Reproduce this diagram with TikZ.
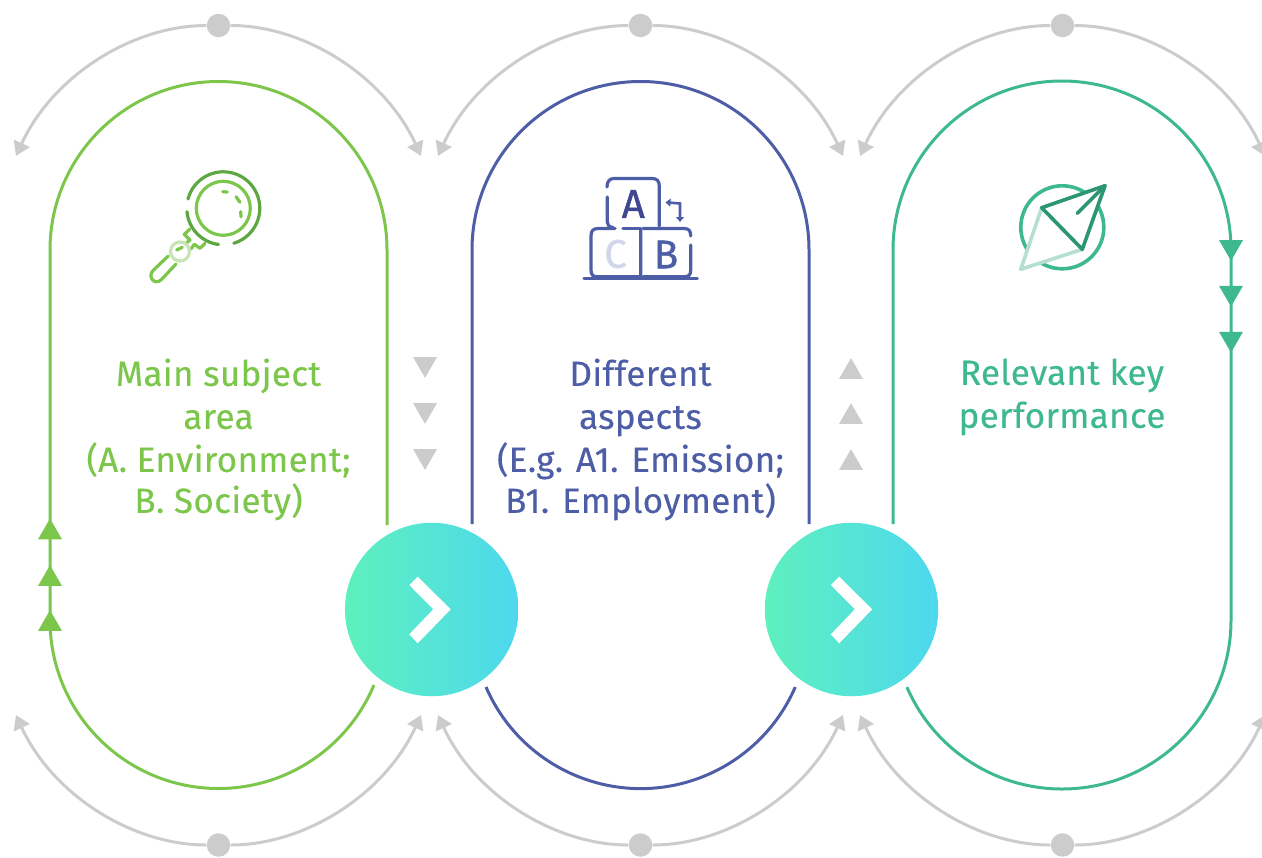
\documentclass[tikz,border=0pt]{standalone}
\usepackage{fontspec}
\setmainfont[LetterSpace=1.0,FakeBold=0.3]{Fira Sans}
\newfontfamily\iconfont[FakeBold=1.2]{Fira Sans}
\usetikzlibrary{arrows.meta,shapes.geometric}
\newlength{\du}
\setlength{\du}{0.5pt}
\definecolor{greycolor}{rgb}{0.796, 0.800, 0.796}
\definecolor{greencolor}{rgb}{0.490, 0.776, 0.298}
\definecolor{greendark}{rgb}{0.365, 0.655, 0.255}
\definecolor{greenpale}{rgb}{0.788, 0.894, 0.706}
\definecolor{bluecolor}{rgb}{0.306, 0.369, 0.651}
\definecolor{bluedark}{rgb}{0.247, 0.278, 0.565}
\definecolor{bluepale}{rgb}{0.827, 0.839, 0.918}
\definecolor{tealcolor}{rgb}{0.239, 0.722, 0.565}
\definecolor{tealdark}{rgb}{0.173, 0.584, 0.451}
\definecolor{tealpale}{rgb}{0.710, 0.878, 0.812}
\definecolor{roundleft}{rgb}{0.369, 0.941, 0.745}
\definecolor{roundright}{rgb}{0.302, 0.847, 0.933}
\tikzset{
  greyarc/.style={draw=greycolor, line width=3\du, -{Triangle[length=7pt,width=8.5pt]}},
  greydot/.style={circle, fill=greycolor, inner sep=0pt, minimum size=23.5\du},
  loopline/.style={line width=3\du},
  tridown/.style={regular polygon, regular polygon sides=3, shape border rotate=180, inner sep=0pt, minimum size=27.7\du},
  triup/.style={regular polygon, regular polygon sides=3, inner sep=0pt, minimum size=27.7\du},
  roundbtn/.style={circle, inner sep=0pt, minimum size=173.5\du, left color=roundleft, right color=roundright},
  looptext/.style={align=center, anchor=north, font=\fontsize{17.5}{21.5}\selectfont},
  iconline/.style={line width=3.2\du, line cap=round, line join=round},
  iconletter/.style={inner sep=0pt, font=\fontsize{20}{20}\selectfont\iconfont}
}
\begin{document}
\begin{tikzpicture}
\pgftransformyscale{-1.000000}
\useasboundingbox (0\du,0\du) rectangle (1262\du,857\du);
\clip (0\du,0\du) rectangle (1262\du,857\du);
% grey arcs, top
\node[greydot] (dottopa) at (218.5\du,25.5\du) {};
\node[greydot] (dottopb) at (640.5\du,25.5\du) {};
\node[greydot] (dottopc) at (1062.5\du,25.5\du) {};
\coordinate (tiptopal) at (16\du,156\du);
\coordinate (tiptopar) at (421\du,156\du);
\coordinate (tiptopbl) at (438\du,156\du);
\coordinate (tiptopbr) at (843\du,156\du);
\coordinate (tiptopcl) at (860\du,156\du);
\coordinate (tiptopcr) at (1265\du,156\du);
\draw[greyarc] (dottopa) .. controls (131.5\du,25.5\du) and (52.2\du,76.9\du) .. (tiptopal);
\draw[greyarc] (dottopa) .. controls (305.5\du,25.5\du) and (384.8\du,76.9\du) .. (tiptopar);
\draw[greyarc] (dottopb) .. controls (553.5\du,25.5\du) and (474.2\du,76.9\du) .. (tiptopbl);
\draw[greyarc] (dottopb) .. controls (727.5\du,25.5\du) and (806.8\du,76.9\du) .. (tiptopbr);
\draw[greyarc] (dottopc) .. controls (975.5\du,25.5\du) and (896.2\du,76.9\du) .. (tiptopcl);
\draw[greyarc] (dottopc) .. controls (1149.5\du,25.5\du) and (1228.8\du,76.9\du) .. (tiptopcr);
% grey arcs, bottom
\node[greydot] (dotbota) at (218.5\du,845\du) {};
\node[greydot] (dotbotb) at (640.5\du,845\du) {};
\node[greydot] (dotbotc) at (1062.5\du,845\du) {};
\coordinate (tipbotal) at (16\du,715\du);
\coordinate (tipbotar) at (421\du,715\du);
\coordinate (tipbotbl) at (438\du,715\du);
\coordinate (tipbotbr) at (843\du,715\du);
\coordinate (tipbotcl) at (860\du,715\du);
\coordinate (tipbotcr) at (1265\du,715\du);
\draw[greyarc] (dotbota) .. controls (131.5\du,845\du) and (52.2\du,794.1\du) .. (tipbotal);
\draw[greyarc] (dotbota) .. controls (305.5\du,845\du) and (384.8\du,794.1\du) .. (tipbotar);
\draw[greyarc] (dotbotb) .. controls (553.5\du,845\du) and (474.2\du,794.1\du) .. (tipbotbl);
\draw[greyarc] (dotbotb) .. controls (727.5\du,845\du) and (806.8\du,794.1\du) .. (tipbotbr);
\draw[greyarc] (dotbotc) .. controls (975.5\du,845\du) and (896.2\du,794.1\du) .. (tipbotcl);
\draw[greyarc] (dotbotc) .. controls (1149.5\du,845\du) and (1228.8\du,794.1\du) .. (tipbotcr);
% the three loops
\draw[loopline, greencolor] (387\du,525\du) -- (387\du,250\du)
  arc[start angle=0, end angle=-180, radius=168.5\du] -- (50\du,620\du)
  arc[start angle=180, end angle=22.7, radius=168.5\du];
\draw[loopline, bluecolor] (472\du,524\du) -- (472\du,250\du)
  arc[start angle=180, end angle=360, radius=168.5\du] -- (809\du,524\du);
\draw[loopline, bluecolor] (486\du,687\du) arc[start angle=156.6, end angle=23.4, radius=168.5\du];
\draw[loopline, tealcolor] (893\du,524\du) -- (893\du,250\du)
  arc[start angle=180, end angle=360, radius=169\du] -- (1231\du,620\du)
  arc[start angle=0, end angle=156.6, radius=169\du];
% small triangles
\node[triup, fill=greencolor] (triga) at (50\du,532.4\du) {};
\node[triup, fill=greencolor] (trigb) at (50\du,579\du) {};
\node[triup, fill=greencolor] (trigc) at (50\du,624\du) {};
\node[tridown, fill=tealcolor] (trita) at (1231\du,247\du) {};
\node[tridown, fill=tealcolor] (tritb) at (1231\du,292.7\du) {};
\node[tridown, fill=tealcolor] (tritc) at (1231\du,338.7\du) {};
\node[tridown, fill=greycolor] (trida) at (425\du,364\du) {};
\node[tridown, fill=greycolor] (tridb) at (425\du,410\du) {};
\node[tridown, fill=greycolor] (tridc) at (425\du,456\du) {};
\node[triup, fill=greycolor] (triua) at (851\du,372\du) {};
\node[triup, fill=greycolor] (triub) at (851\du,417\du) {};
\node[triup, fill=greycolor] (triuc) at (851\du,463\du) {};
% round buttons
\node[roundbtn] (btna) at (431.7\du,609.5\du) {};
\node[roundbtn] (btnb) at (851.5\du,609.5\du) {};
\fill[white] (409.3\du,585\du) -- (417.7\du,576.7\du) -- (450.7\du,609.3\du) -- (417.7\du,643.3\du) -- (409.3\du,634.3\du) -- (433.3\du,609.3\du) -- cycle;
\fill[white] (830.8\du,585\du) -- (839.2\du,576.7\du) -- (872.2\du,609.3\du) -- (839.2\du,643.3\du) -- (830.8\du,634.3\du) -- (854.8\du,609.3\du) -- cycle;
% texts
\node[looptext, text=greencolor] (texta) at (218.5\du,351.5\du) {Main subject\\area\\(A. Environment;\\[-1pt]B. Society)};
\node[looptext, text=bluecolor] (textb) at (640.5\du,351.5\du) {Different\\aspects\\(E.g. A1. Emission;\\[-1pt]B1. Employment)};
\node[looptext, text=tealcolor] (textc) at (1062\du,351.5\du) {Relevant key\\performance};
% magnifier
\draw[iconline, greencolor] (223.3\du,208.3\du) circle[radius=27\du];
\draw[iconline, greendark] (223.3\du,208.3\du) ++(194.8:36.5\du) arc[start angle=194.8, end angle=433.3, radius=36.5\du];
\draw[iconline, greendark] (223.3\du,208.3\du) ++(97.6:36.5\du) arc[start angle=97.6, end angle=174.7, radius=36.5\du];
\draw[iconline, greencolor] (222.7\du,191.7\du) -- (227.3\du,192\du);
\draw[iconline, greencolor] (236\du,196.7\du) -- (240\du,202.3\du);
\draw[iconline, greencolor] (240.7\du,211.7\du) -- (241\du,216.7\du);
\draw[iconline, greencolor] (190\du,229\du) -- (184.3\du,234.3\du) -- (190\du,240\du) -- (186\du,243.5\du);
\draw[iconline, greencolor] (205\du,243.3\du) -- (200\du,248.3\du) -- (194.3\du,244.3\du) -- (191\du,249\du);
\draw[iconline, greencolor] (168.3\du,256\du) -- (153\du,270.5\du) .. controls (147\du,277\du) and (155\du,286\du) .. (161.5\du,279.5\du) -- (176\du,264\du);
\draw[iconline, greenpale, fill=white] (180\du,251.5\du) circle[radius=9.5\du];
\draw[iconline, greencolor] (176.7\du,250\du) -- (182.3\du,247.3\du);
% blocks
\draw[iconline, bluecolor] (584\du,278.3\du) -- (697.3\du,278.3\du);
\draw[iconline, bluecolor] (607\du,187\du) .. controls (607\du,181\du) and (610\du,178.5\du) .. (614\du,178.5\du) -- (652\du,178.5\du) .. controls (657\du,178.5\du) and (659.3\du,181\du) .. (659.3\du,186\du) -- (659.3\du,226\du);
\draw[iconline, bluecolor] (607.3\du,197\du) -- (607.3\du,222\du) .. controls (607.3\du,225\du) and (609\du,227\du) .. (613\du,227.5\du);
\draw[iconline, bluecolor] (615\du,228.5\du) -- (598\du,228.5\du) .. controls (593\du,228.5\du) and (591\du,231\du) .. (591\du,236\du) -- (591\du,270\du) .. controls (591\du,275\du) and (593\du,276.7\du) .. (597\du,276.7\du) -- (640.7\du,276.7\du) -- (640.7\du,230\du);
\draw[iconline, bluecolor] (623\du,228.5\du) -- (640.7\du,228.5\du);
\draw[iconline, bluecolor] (643\du,228.5\du) -- (684\du,228.5\du) .. controls (689\du,228.5\du) and (690.7\du,231\du) .. (690.7\du,236\du);
\draw[iconline, bluecolor] (690.7\du,245\du) -- (690.7\du,270\du) .. controls (690.7\du,275\du) and (689\du,276.7\du) .. (684\du,276.7\du) -- (643\du,276.7\du);
\node[iconletter, text=bluedark] (lettera) at (633.3\du,204\du) {A};
\node[iconletter, text=bluepale] (letterc) at (615.5\du,254\du) {C};
\node[iconletter, text=bluecolor] (letterb) at (666\du,254.5\du) {B};
\coordinate (smallstart) at (665.5\du,202.3\du);
\coordinate (smallend) at (680\du,222\du);
\draw[line width=2.6\du, bluecolor, {Triangle[length=2.5pt,width=4pt]}-{Triangle[length=2.5pt,width=4pt]}] (smallstart) -- (680\du,203.5\du) -- (smallend);
% compass
\draw[line width=3.6\du, tealcolor] (1062.3\du,227.3\du) circle[radius=41.5\du];
\draw[line width=3.6\du, tealpale, fill=white, line join=round] (1041.7\du,207.7\du) -- (1020.7\du,269.3\du) -- (1082.3\du,249.3\du) -- cycle;
\draw[line width=3.6\du, tealdark, fill=white, line join=round] (1041.7\du,207.7\du) -- (1105\du,185.7\du) -- (1082.3\du,249.3\du) -- cycle;
\draw[line width=3.6\du, tealdark, line cap=round] (1077.3\du,213.3\du) -- (1105\du,185.7\du);
\end{tikzpicture}
\end{document}
